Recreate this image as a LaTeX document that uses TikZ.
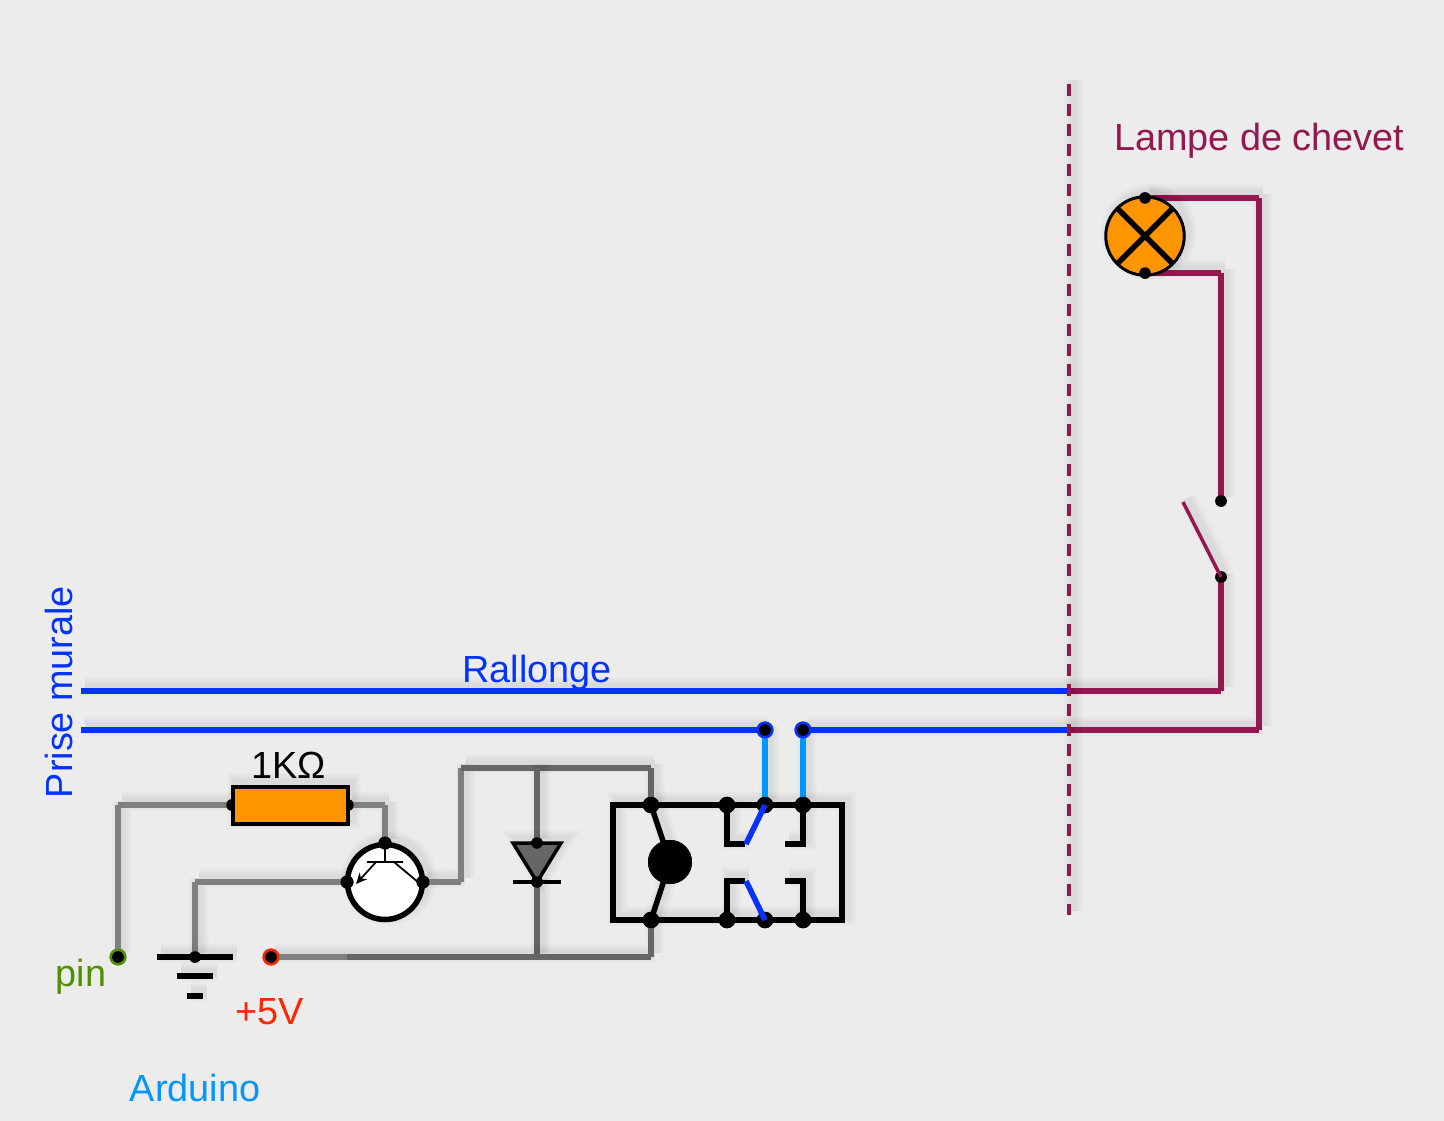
\documentclass[tikz,border=0pt]{standalone}
\usetikzlibrary{arrows.meta}
\usepackage{fontspec}
\setmainfont{Liberation Sans}
\definecolor{bgc}{HTML}{ECECEC}
\definecolor{maroonc}{HTML}{941751}
\definecolor{blueA}{HTML}{0433FF}
\definecolor{blueB}{HTML}{0096FF}
\definecolor{greyA}{HTML}{7F7F7F}
\definecolor{greyB}{HTML}{666666}
\definecolor{orangec}{HTML}{FF9500}
\definecolor{greenc}{HTML}{4F8F00}
\definecolor{redc}{HTML}{FF2600}
\tikzset{
  shd/.style={
    preaction={draw=black,fill=none,draw opacity=.014,line width=#1pt+15pt,transform canvas={shift={(4pt,4pt)}}},
    preaction={draw=black,fill=none,draw opacity=.016,line width=#1pt+11pt,transform canvas={shift={(4pt,4pt)}}},
    preaction={draw=black,fill=none,draw opacity=.018,line width=#1pt+7pt,transform canvas={shift={(4pt,4pt)}}},
    preaction={draw=black,fill=none,draw opacity=.02,line width=#1pt+3pt,transform canvas={shift={(4pt,4pt)}}}},
  wire/.style n args={2}{shd=#2,draw=#1,line width=#2pt,line cap=butt,line join=miter},
  dot/.style={circle,fill=black,draw=none,inner sep=0pt,minimum size=#1pt},
  dotA/.style={dot=11.5},
  dotB/.style={dot=13},
  dotC/.style={dot=16.5},
  term/.style={circle,fill=black,draw=#1,line width=2.5pt,inner sep=0pt,minimum size=14.5pt},
  lbl/.style={text=#1,inner sep=0pt,font=\fontsize{37.8}{42}\selectfont},
}
\begin{document}
\begin{tikzpicture}[x=1pt,y=-1pt]
\useasboundingbox (0,0) rectangle (1444,1120);
\fill[bgc] (-6,-6) rectangle (1450,1126);
% free points
\foreach \n/\x/\y in {mainAstart/81/691,mainBstart/81/730,sepA/1069/691,sepB/1069/730,cA/1221/691,cB/1259/730,cC/1259/198,cD/1221/273,
  sepTop/1069/84,sepBot/1069/915,swTip/1183/502,
  cPin/118/805,cRes/385/805,cBase/195/882,cCol/461/882,cColTop/461/768,cTop/537/768,cTopR/651/768,
  cBot/537/957,cBotR/651/957,cFade/347/957,
  lCornA/727/844,lCornB/803/844,lCornC/727/881,lCornD/803/881,
  lEndA/745/844,lEndB/785/844,lEndC/745/881,lEndD/785/881,bladeA/746/844,bladeB/746/881,
  relTL/613/805,relBR/842/920,gA/157/957,gB/233/957,gC/177/976,gD/213/976,gE/187/996,gF/203/996,
  barA/367/862,barB/403/862,stem/385/862,emA/376/862,emB/356/884,colA/394/862,colB/418/882,
  dbarA/513/882,dbarB/561/882,triA/513/843,triB/561/843}
  {\coordinate (\n) at (\x,\y);}
% mains
\node[dotA] (swA) at (1221,501) {};
\node[dotA] (swB) at (1221,577) {};
\node[dotA] (lampT) at (1145,198) {};
\node[dotA] (lampB) at (1145,273) {};
\draw[wire={maroonc}{5.6}] (lampT.center) -- (cC) (cC) -- (cB) (cB) -- (sepB);
\draw[wire={maroonc}{5.6}] (lampB.center) -- (cD) (cD) -- (swA.center);
\draw[wire={maroonc}{5.6}] (swB.center) -- (cA) (cA) -- (sepA);
% lamp
\node[circle,shd=3,draw=black,fill=orangec,line width=3pt,minimum size=78.5pt,inner sep=0pt] (lamp) at (1145,236) {};
\draw[black,line width=5.5pt] (1118,209) -- (1172,263) (1172,209) -- (1118,263);
\node[dotA] at (lampT) {};
\node[dotA] at (lampB) {};
\node[dotA] at (swA) {};
\node[dotA] at (swB) {};
\draw[wire={maroonc}{3.5}] (swTip) -- (swB.center);
\draw[wire={blueA}{5.6}] (mainAstart) -- (sepA);
\node[term=blueA] (tA) at (765,730) {};
\node[term=blueA] (tB) at (803,730) {};
\draw[wire={blueA}{5.6}] (mainBstart) -- (tA.center);
\draw[wire={blueA}{5.6}] (tB.center) -- (sepB);
\draw[wire={maroonc}{4},dash pattern=on 12pt off 8pt] (sepTop) -- (sepBot);
% relay
\node[dotC] (r1) at (651,805) {};
\node[dotC] (r2) at (651,920) {};
\node[dotC] (r3) at (727,805) {};
\node[dotC] (r4) at (765,805) {};
\node[dotC] (r5) at (803,805) {};
\node[dotC] (r6) at (727,920) {};
\node[dotC] (r7) at (765,920) {};
\node[dotC] (r8) at (803,920) {};
\node[dot=44] (coil) at (670,862) {};
\draw[wire={black}{5.5}] (relTL) rectangle (relBR);
\draw[wire={black}{5.5}] (r1.center) -- (coil.center) -- (r2.center);
\draw[wire={black}{5.5}] (r3.center) -- (lCornA) -- (lEndA);
\draw[wire={black}{5.5}] (r5.center) -- (lCornB) -- (lEndB);
\draw[wire={black}{5.5}] (r6.center) -- (lCornC) -- (lEndC);
\draw[wire={black}{5.5}] (r8.center) -- (lCornD) -- (lEndD);
\draw[wire={blueB}{5.6}] (tA.center) -- (r4.center);
\draw[wire={blueB}{5.6}] (tB.center) -- (r5.center);
\node[dotC] at (r3) {};
\node[dotC] at (r4) {};
\node[dotC] at (r5) {};
\node[dotC] at (r6) {};
\node[dotC] at (r7) {};
\node[dotC] at (r8) {};
\node[dot=44] at (coil) {};
\node[term=blueA] at (tA) {};
\node[term=blueA] at (tB) {};
\draw[blueA,line width=5.6pt] (r4.center) -- (bladeA);
\draw[blueA,line width=5.6pt] (r7.center) -- (bladeB);
% arduino side
\node[term=greenc] (pin) at (118,957) {};
\node[term=redc] (plus) at (271,957) {};
\node[dotA] (gnd) at (195,957) {};
\node[rectangle,shd=4,draw=black,fill=orangec,line width=4pt,minimum width=115pt,minimum height=37pt,inner sep=0pt] (res) at (290,805) {};
\node[circle,shd=5.5,draw=black,fill=white,line width=5.5pt,minimum size=75pt,inner sep=0pt] (tr) at (385,882) {};
\node[dotB] (trB) at (385,843) {};
\node[dotB] (trE) at (347,882) {};
\node[dotB] (trC) at (423,882) {};
\node[dotA] (resL) at (232,805) {};
\node[dotA] (resR) at (348,805) {};
\node[dotA] (dTop) at (537,843) {};
\node[dotA] (dBot) at (537,882) {};
\draw[wire={greyA}{5.6}] (pin.center) -- (cPin) (cPin) -- (resL.center);
\draw[wire={greyA}{5.6}] (resR.center) -- (cRes) (cRes) -- (trB.center);
\draw[wire={greyA}{5.6}] (gnd.center) -- (cBase) (cBase) -- (trE.center);
\draw[wire={greyA}{5.6}] (trC.center) -- (cCol) (cCol) -- (cColTop);
\draw[wire={greyB}{5.6}] (cColTop) -- (cTopR) (cTopR) -- (r1.center);
\draw[wire={greyB}{5.6}] (cTop) -- (dTop.center);
\draw[wire={greyB}{5.6}] (dBot.center) -- (cBot);
\draw[wire={greyA}{5.6}] (plus.center) -- (cFade);
\draw[wire={greyB}{5.6}] (cFade) -- (cBotR) (cBotR) -- (r2.center);
\node[dotC] at (r1) {};
\node[dotC] at (r2) {};
% ground
\draw[wire={black}{5.5}] (gA) -- (gB);
\draw[wire={black}{5.5}] (gC) -- (gD);
\draw[wire={black}{5.5}] (gE) -- (gF);
\node[dotA] at (gnd) {};
\node[term=greenc] at (pin) {};
\node[term=redc] at (plus) {};
% transistor and diode details
\node[dotA] at (resL) {};
\node[dotA] at (resR) {};
\node[rectangle,draw=black,fill=orangec,line width=4pt,minimum width=115pt,minimum height=37pt,inner sep=0pt] at (res) {};
\node[dotB] at (trB) {};
\node[dotB] at (trE) {};
\node[dotB] at (trC) {};
\draw[black,line width=1.8pt] (barA) -- (barB) (trB.center) -- (stem) (colA) -- (colB);
\draw[black,line width=1.8pt,-{Stealth[length=11pt,width=10pt]}] (emA) -- (emB);
\draw[shd=3.5,draw=black,fill=greyB,line width=3.5pt,line join=miter] (triA) -- (triB) -- (dBot.center) -- cycle;
\draw[black,line width=3.5pt] (dbarA) -- (dbarB);
\node[dotA] at (dTop) {};
\node[dotA] at (dBot) {};
% labels
\node[lbl=maroonc] (tLampe) at (1259,141) {Lampe de chevet};
\node[lbl=blueA] (tRall) at (537,672.5) {Rallonge};
\node[lbl=blueA,rotate=90] (tPrise) at (59,692) {Prise murale};
\node[lbl=black] (tRes) at (289,765) {1KΩ};
\node[lbl=greenc] (tPin) at (81,977) {pin};
\node[lbl=redc] (tPlus) at (270,1012) {+5V};
\node[lbl=blueB] (tArd) at (195,1088) {Arduino};
\end{tikzpicture}
\end{document}
